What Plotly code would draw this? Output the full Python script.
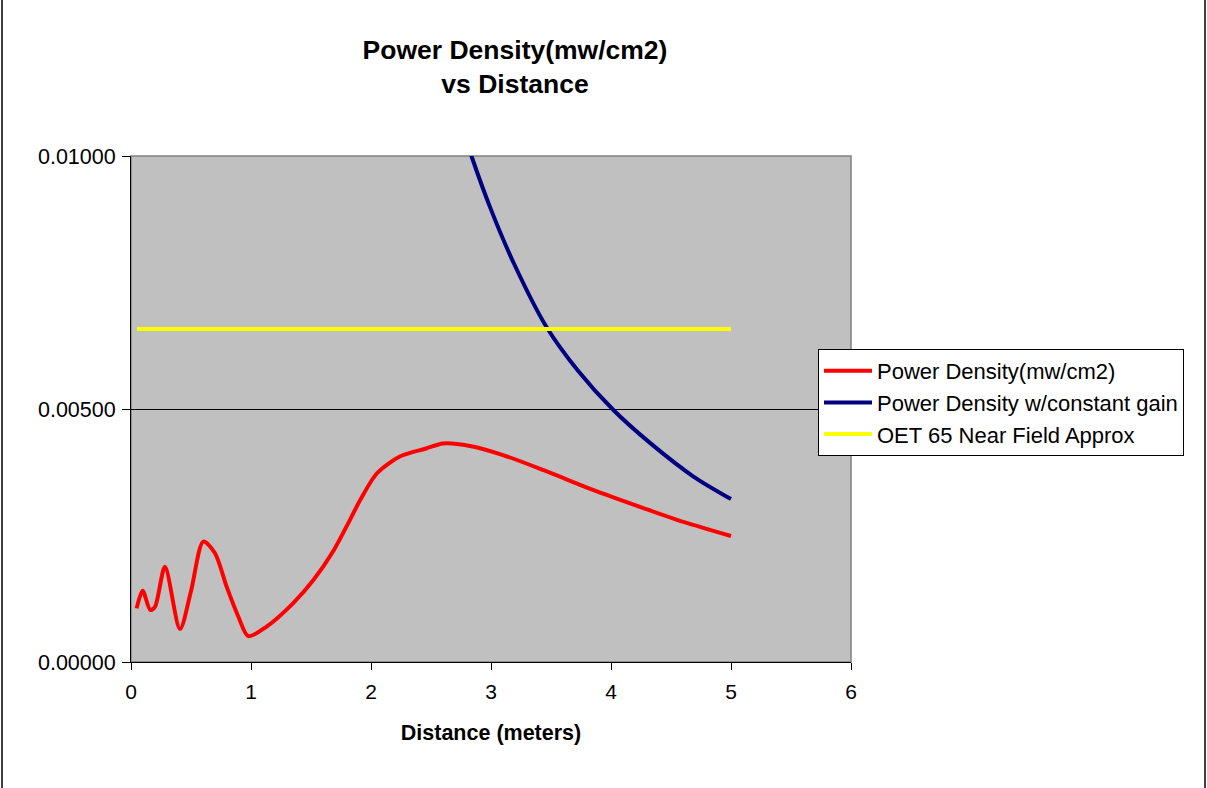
import plotly.graph_objects as go

# Data
red_x = [0.047, 0.097, 0.16, 0.20, 0.283, 0.408, 0.50, 0.603, 0.70, 0.797, 0.894, 0.978,
         1.13, 1.35, 1.52, 1.69, 1.825, 1.91, 2.05, 2.24, 2.46, 2.60, 2.825, 3.10, 3.44,
         3.85, 4.27, 4.55, 5.0]
red_y = [0.00106, 0.00141, 0.00103, 0.00109, 0.00188, 0.00065, 0.00140, 0.00238, 0.00215,
         0.00149, 0.00090, 0.00051, 0.00070, 0.00116, 0.00162, 0.00221, 0.00281, 0.00320,
         0.00373, 0.00406, 0.00422, 0.00432, 0.00427, 0.00409, 0.00379, 0.00340, 0.00304,
         0.00281, 0.00249]

blue_x = [2.5, 2.75, 2.84, 3.0, 3.19, 3.46, 3.72, 4.02, 4.33, 4.69, 5.0]
blue_y = [0.01288, 0.01064, 0.00998, 0.00894, 0.00788, 0.00663, 0.00577, 0.00498,
          0.00432, 0.00366, 0.00322]

yellow_x = [0.05, 5.0]
yellow_y = [0.00658, 0.00658]

names = ["Power Density(mw/cm2)", "Power Density w/constant gain", "OET 65 Near Field Approx"]

fig = go.Figure()
fig.add_trace(go.Scatter(x=red_x, y=red_y, mode="lines", name=names[0],
                         line=dict(color="#FF0000", width=4, shape="spline", smoothing=0.8)))
fig.add_trace(go.Scatter(x=blue_x, y=blue_y, mode="lines", name=names[1],
                         line=dict(color="#000080", width=4, shape="spline", smoothing=0.8)))
fig.add_trace(go.Scatter(x=yellow_x, y=yellow_y, mode="lines", name=names[2],
                         line=dict(color="#FFFF00", width=4)))

font = "Arial, Liberation Sans, sans-serif"
fig.update_layout(
    width=1207, height=788,
    margin=dict(l=131, r=356, t=156, b=126),
    paper_bgcolor="white",
    plot_bgcolor="#C0C0C0",
    font=dict(family=font, size=21, color="black"),
    title=dict(text="<b>Power Density(mw/cm2)<br>vs Distance</b>", x=515/1207, xanchor="center",
               y=1-59/788, yanchor="top", font=dict(size=26.5, family=font)),
    xaxis=dict(range=[0, 6], tickvals=[0, 1, 2, 3, 4, 5, 6], showgrid=False, zeroline=False,
               showline=True, linecolor="black", linewidth=1, ticks="outside", ticklen=7,
               tickcolor="black", mirror=False, tickfont=dict(size=21), ticklabelstandoff=4,
               title=dict(text="<b>Distance (meters)</b>", font=dict(size=21.5), standoff=22)),
    yaxis=dict(range=[0, 0.01], tickvals=[0, 0.005, 0.01], tickformat=".5f", showgrid=True,
               gridcolor="black", gridwidth=1, zeroline=False, showline=True, linecolor="black",
               linewidth=1, ticks="outside", ticklen=8, tickcolor="black", tickfont=dict(size=21.5),
               ticklabelstandoff=2),
    legend=dict(x=(818-131)/720, xanchor="left", y=(662-349)/506, yanchor="top",
                bgcolor="white", bordercolor="black", borderwidth=1, itemwidth=48,
                font=dict(size=22), tracegroupgap=0),
    showlegend=True,
)
# plot area border (top/right gray)
fig.add_shape(type="rect", xref="paper", yref="paper", x0=0, y0=0, x1=1, y1=1,
              line=dict(color="#808080", width=1.5), layer="below")
# chart frame edges
fig.add_shape(type="line", xref="paper", yref="paper", x0=-129/720, x1=-129/720, y0=-126/506, y1=662/506,
              line=dict(color="black", width=1.5))
fig.add_shape(type="line", xref="paper", yref="paper", x0=(1205-131)/720, x1=(1205-131)/720,
              y0=-126/506, y1=662/506, line=dict(color="black", width=1.5))

fig.write_html("out.html")
